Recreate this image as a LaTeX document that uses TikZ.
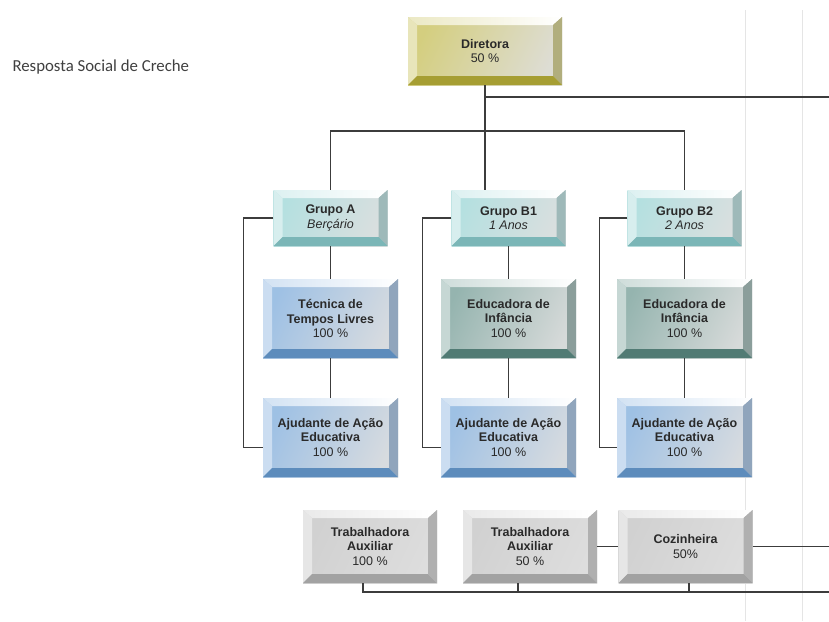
\documentclass[tikz,border=0pt]{standalone}
\usepackage{fontspec}
\setmainfont{Liberation Sans}
\newfontfamily\titlefont{Carlito}
\usetikzlibrary{calc}

\definecolor{dirCol}{HTML}{BDB43A}
\definecolor{grpCol}{HTML}{8CCFD0}
\definecolor{bluCol}{HTML}{6A9FD6}
\definecolor{eduCol}{HTML}{5C8C84}
\definecolor{auxCol}{HTML}{B8B8B8}
\definecolor{wireCol}{HTML}{3C3C3C}
\definecolor{txtCol}{HTML}{2A2A2A}

\tikzset{
    bevel/.style={rectangle, align=center, text=txtCol, inner sep=0pt,
        font=\fontsize{12.5}{14.5}\selectfont\bfseries,
        path picture={
            \coordinate (sw) at (path picture bounding box.south west);
            \coordinate (ne) at (path picture bounding box.north east);
            \coordinate (nw) at (sw |- ne);
            \coordinate (se) at (ne |- sw);
            \coordinate (isw) at ([shift={(9pt,9pt)}]sw);
            \coordinate (ine) at ([shift={(-9pt,-8pt)}]ne);
            \coordinate (inw) at (isw |- ine);
            \coordinate (ise) at (ine |- isw);
            \shade[left color=#1!65, middle color=white, right color=#1!25!gray!30, shading angle=65] (sw) rectangle (ne);
            \shade[left color=#1!30, right color=white] (nw) -- (ne) -- (ine) -- (inw) -- cycle;
            \fill[#1!35!white] (nw) -- (inw) -- (isw) -- (sw) -- cycle;
            \fill[#1!50!gray!80] (ne) -- (se) -- (ise) -- (ine) -- cycle;
            \fill[#1!88!black] (sw) -- (isw) -- (ise) -- (se) -- cycle;
        }},
    dirbox/.style={minimum width=154pt, minimum height=68pt},
    grpbox/.style={minimum width=114pt, minimum height=56pt},
    staffbox/.style={minimum width=135pt, minimum height=79pt},
    auxbox/.style={minimum width=134pt, minimum height=73pt},
    wire/.style={draw=wireCol, line width=1.1pt},
}

\begin{document}
\begin{tikzpicture}[x=1pt, y=-1pt]
    \useasboundingbox[fill=white] (0,0) rectangle (829,621);
    % faint page edges of the scan
    \draw[black!10, line width=1pt] (745,10) -- (745,621);
    \draw[black!10, line width=1pt] (802,10) -- (802,621);

    \node[font=\titlefont\fontsize{16.8}{18}\selectfont, text=black!75, anchor=west] (title) at (9,67) {Resposta Social de Creche};

    \node[bevel=dirCol, dirbox] (dir) at (485,51) {Diretora\\{\mdseries 50 \%}};

    \node[bevel=grpCol, grpbox] (grpA) at (330.5,218) {Grupo A\\{\mdseries\itshape Berçário}};
    \node[bevel=grpCol, grpbox] (grpBi) at (508.5,218) {Grupo B1\\{\mdseries\itshape 1 Anos}};
    \node[bevel=grpCol, grpbox] (grpBii) at (684.5,218) {Grupo B2\\{\mdseries\itshape 2 Anos}};

    \node[bevel=bluCol, staffbox] (tecA) at (330.5,318.5) {Técnica de\\Tempos Livres\\{\mdseries 100 \%}};
    \node[bevel=eduCol, staffbox] (eduBi) at (508.5,318.5) {Educadora de\\Infância\\{\mdseries 100 \%}};
    \node[bevel=eduCol, staffbox] (eduBii) at (684.5,318.5) {Educadora de\\Infância\\{\mdseries 100 \%}};

    \node[bevel=bluCol, staffbox] (ajuA) at (330.5,437.5) {Ajudante de Ação\\Educativa\\{\mdseries 100 \%}};
    \node[bevel=bluCol, staffbox] (ajuBi) at (508.5,437.5) {Ajudante de Ação\\Educativa\\{\mdseries 100 \%}};
    \node[bevel=bluCol, staffbox] (ajuBii) at (684.5,437.5) {Ajudante de Ação\\Educativa\\{\mdseries 100 \%}};

    \node[bevel=auxCol, auxbox] (trabI) at (370,546.5) {Trabalhadora\\Auxiliar\\{\mdseries 100 \%}};
    \node[bevel=auxCol, auxbox] (trabII) at (530,546.5) {Trabalhadora\\Auxiliar\\{\mdseries 50 \%}};
    \node[bevel=auxCol, auxbox] (coz) at (685.5,546.5) {Cozinheira\\{\mdseries 50\%}};

    \coordinate (edgeTop) at (829,97);
    \coordinate (busTop) at (485,131);
    \coordinate (edgeMid) at (829,546.5);
    \coordinate (edgeLow) at (829,592);

    % direction
    \draw[wire] (dir.south) -- (dir.south |- grpBi.north);
    \draw[wire] (dir.south |- edgeTop) -- (edgeTop);
    \draw[wire] (grpA.north) -- (grpA.north |- busTop) -- (grpBii.north |- busTop) -- (grpBii.north);

    % groups
    \draw[wire] (grpA.south) -- (tecA.north) (tecA.south) -- (ajuA.north);
    \draw[wire] (grpBi.south) -- (eduBi.north) (eduBi.south) -- (ajuBi.north);
    \draw[wire] (grpBii.south) -- (eduBii.north) (eduBii.south) -- (ajuBii.north);
    \draw[wire] (grpA.west) -- ++(-30,0) |- ([yshift=-10pt]ajuA.west);
    \draw[wire] (grpBi.west) -- ++(-29,0) |- ([yshift=-10pt]ajuBi.west);
    \draw[wire] (grpBii.west) -- ++(-28,0) |- ([yshift=-10pt]ajuBii.west);

    % support staff
    \draw[wire] (trabII.east) -- (coz.west);
    \draw[wire] (coz.east) -- (edgeMid);
    \draw[wire] ([xshift=-7pt]trabI.south) -- ([xshift=-7pt]trabI.south |- edgeLow) -- (edgeLow);
    \draw[wire] ([xshift=-12pt]trabII.south) -- ([xshift=-12pt]trabII.south |- edgeLow);
    \draw[wire] ([xshift=3.5pt]coz.south) -- ([xshift=3.5pt]coz.south |- edgeLow);
\end{tikzpicture}
\end{document}
